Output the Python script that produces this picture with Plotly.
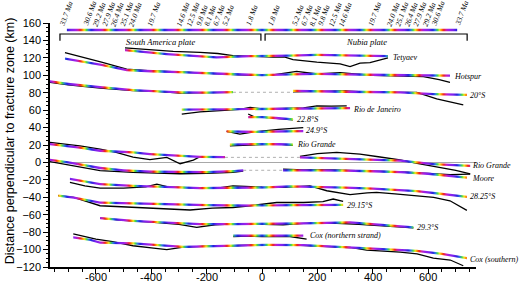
import numpy as np
import plotly.graph_objects as go

XMIN, XMAX = -766, 773
YMIN, YMAX = -120, 160
X_TICKS = [-600, -400, -200, 0, 200, 400, 600]

# ---------------- age key (km from ridge) ----------------
age_labels = ["1.8 Ma", "5.2 Ma", "6.7 Ma", "8.1 Ma", "9.8 Ma", "12.5 Ma", "14.6 Ma",
              "19.7 Ma", "24.0 Ma", "25.1 Ma", "26.4 Ma", "27.9 Ma", "29.2 Ma", "30.6 Ma", "33.7 Ma"]
age_km = [40, 126, 159, 190, 220, 257, 293, 399, 466, 497, 531, 562, 596, 629, 714]

# ---------------- tracks: black = observed, c = coloured flowline ----------------
tet_bx = [-495, -405, -321, -224, -160, -105, -19, 40, 80, 112, 198, 282, 318, 354, 390, 455]
tet_by = [131.5, 129, 127.4, 126.3, 125, 122.5, 121.3, 121, 121, 118, 115, 113, 110, 114, 114.5, 120]
tet_cx = [-495, -344, -164, -43, 100, 198, 350, 455]
tet_cy = [129, 124.4, 120.5, 122, 122.5, 123.3, 122.5, 122]

hot_bx = [-712, -650, -580, -489, -400, -300, -224, -105, -40, 40, 125, 200, 282, 400, 500, 583, 640, 679]
hot_by = [126, 121, 115, 107, 105, 104, 103, 101, 100, 100.5, 104.5, 101.5, 103, 100, 99.5, 98.4, 95, 92]
hot_cx = [-712, -650, -580, -489, -400, -300, -200, -100, 0, 100, 200, 300, 400, 500, 600, 679]
hot_cy = [119, 116, 112, 106, 104.5, 103.5, 102.5, 101, 100.2, 101, 101.5, 101, 100.5, 100, 99.5, 99.5]

s20l_bx = [-766, -700, -585, -466, -380, -296, -200, -105]
s20l_by = [91.8, 89, 85.4, 82.4, 81.5, 79.7, 80, 80.4]
s20l_cx = [-766, -700, -585, -466, -380, -296, -200, -105]
s20l_cy = [93, 90, 86.5, 83, 81.5, 80.3, 80, 80.8]
s20r_bx = [112, 200, 300, 400, 500, 559, 631, 727]
s20r_by = [81, 81.5, 82, 80.5, 80, 80.4, 72.8, 66]
s20r_cx = [112, 200, 300, 400, 500, 619, 740]
s20r_cy = [82, 81.5, 81, 80.5, 80.5, 78.5, 77.6]

rdj_bx = [-290, -260, -224, -150, -80, -43, 0, 80, 150, 198, 250, 306]
rdj_by = [55.5, 57, 58, 59.5, 61, 63, 61.5, 62, 62.5, 65, 64.5, 65]
rdj_cx = [-290, -200, -100, 0, 100, 200, 318]
rdj_cy = [60.5, 60.5, 61, 61.5, 62, 62, 62.4]

s228_bx = [-50, -30, 0, 50, 112]
s228_by = [55.6, 52.5, 52, 51, 49]
s228_cx = [-50, 0, 50, 112]
s228_cy = [52, 52, 51, 49.5]

s249_bx = [-128, -100, -80, -40, 0, 60, 149]
s249_by = [35.6, 34, 32.6, 34.5, 36, 38, 40]
s249_cx = [-128, -60, 0, 60, 149]
s249_cy = [35.6, 35, 35, 35.5, 36]

rgs_bx = [-116, -60, 0, 60, 112]
rgs_by = [19, 20, 20.5, 21, 19.5]
rgs_cx = [-116, -60, 0, 60, 112]
rgs_cy = [20.5, 21, 21, 21, 20.5]

rgl_bx = [-766, -658, -585, -527, -466, -405, -344, -296, -248, -224, -134]
rgl_by = [23, 19, 15.3, 11.5, 6, 3.2, 5.8, -1.5, 2.7, 6.5, 6]
rgl_cx = [-766, -658, -585, -466, -405, -296, -224, -134]
rgl_cy = [21, 17, 13.4, 11.5, 9.6, 7.7, 6.5, 6]
rgr_bx = [137, 200, 270, 354, 420, 499, 560, 631, 700, 752]
rgr_by = [7, 10, 11.5, 9.6, 6.5, 3, -1, -5, -9, -13]
rgr_cx = [137, 318, 499, 619, 752]
rgr_cy = [5.8, 4, 2, -1.9, -4]

mol_bx = [-766, -700, -585, -466, -380, -296, -200, -105, -68]
mol_by = [1, -3, -9.5, -11.5, -12, -13, -12.5, -11.5, -10]
mol_cx = [-766, -700, -585, -500, -400, -300, -200, -100, -68]
mol_cy = [3, 0, -6.4, -9, -10.5, -11, -11, -10, -9]
mor_bx = [76, 150, 250, 318, 400, 500, 600, 679, 752]
mor_by = [-7.6, -8.5, -8.5, -9.5, -10, -11, -12.5, -14, -13.5]
mor_cx = [76, 200, 300, 400, 500, 600, 680, 740]
mor_cy = [-9, -9, -9.5, -10, -11, -13, -15.5, -17.5]

s2825_bx = [-694, -640, -585, -500, -420, -380, -340, -224, -150, -105, -60, 0, 76, 130, 173,
            234, 318, 380, 414, 480, 559, 620, 679, 740]
s2825_by = [-23, -27, -29.5, -29.5, -28, -25, -28, -29.5, -29, -27, -27.5, -28.5, -28.7, -28, -27,
            -32.5, -37, -35, -34.4, -36, -38, -40, -44, -55]
s2825_cx = [-694, -585, -466, -350, -224, -100, 17, 100, 198, 300, 400, 480, 559, 650, 740]
s2825_cy = [-19, -25, -27, -28, -29.5, -29, -28.7, -27.5, -28, -29, -30, -31.5, -33, -36, -39.5]

s2915_bx = [-736, -680, -585, -500, -405, -330, -260, -180, -105, -43, 53, 150, 220, 257, 293]
s2915_by = [-38, -40, -49.7, -51, -52, -53, -54.6, -52.5, -51.7, -49.7, -46, -46, -45, -42, -44.8]
s2915_cx = [-736, -680, -585, -450, -344, -200, -100, 0, 100, 200, 293]
s2915_cy = [-38, -40.5, -46, -47.5, -48, -49, -49.5, -49.5, -49, -49, -48.6]

s293_bx = [-585, -500, -400, -300, -236, -170, -100, 0, 76, 150, 250, 350, 437, 547]
s293_by = [-64, -66.5, -68.5, -71, -74.6, -71.5, -70.5, -71, -71.5, -70, -69.5, -71, -72.7, -75]
s293_cx = [-585, -466, -350, -224, -100, 17, 150, 318, 437, 547]
s293_cy = [-64, -67, -69, -70.7, -70.7, -70.7, -70, -68.9, -71.5, -74.6]

coxn_bx = [-104, -50, 0, 50, 101, 161]
coxn_by = [-85, -84.5, -85, -85, -85, -88]
coxn_cx = [-104, -50, 0, 50, 100, 149]
coxn_cy = [-84, -84, -84, -84, -84, -84]

coxs_bx = [-682, -600, -540, -466, -400, -344, -290, -200, -105, 0, 100, 198, 318, 378, 450, 499,
           560, 619, 680, 727]
coxs_by = [-82, -88, -91, -95.6, -98, -100, -97.5, -96, -95.6, -94.5, -94.5, -95.6, -97.6, -100.6,
           -102, -103, -105, -109.8, -112, -118.6]
coxs_cx = [-682, -620, -585, -466, -284, -105, 17, 150, 318, 450, 559, 650, 740]
coxs_cy = [-86, -89, -92, -93, -97, -95.6, -94.5, -95, -97.6, -99.5, -101.4, -105, -109.8]

# labels of fracture zones
fz_names = ["Tetyaev", "Hotspur", "20°S", "Rio de Janeiro", "22.8°S", "24.9°S", "Rio Grande",
            "Rio Grande", "Moore", "28.25°S", "29.15°S", "29.3°S", "Cox (northern strand)", "Cox (southern)"]
fz_lx = [465, 688, 745, 322, 118, 153, 118, 752, 752, 745, 298, 552, 165, 745]
fz_ly = [120, 99, 77, 61, 49.8, 36.4, 21, -4, -18, -39, -49.7, -74.6, -84, -111]

# dotted connectors across the ridge gap
gap_y = [80.5, 5.8, -9]
gap_x0 = [-105, -134, -68]
gap_x1 = [112, 137, 76]

# plate brackets
plates = ["South America plate", "Nubia plate"]
plate_x0 = [-730, 11]
plate_x1 = [-4, 741]
BAR_X = [-705, 705]

# ---------------- colour key ----------------
KEY_STOPS = [0.0, 0.16, 0.36, 0.46, 0.56, 0.64, 0.72, 0.8, 0.9, 1.0]
KEY_COLORS = ['#2222dd', '#7a22ee', '#a020e8', '#d020a8', '#f01c1c', '#ff8a00', '#f2ea20', '#44dd44',
              '#2a7ae8', '#2222dd']
KEY_PERIOD = 705 / 8.0


def hex2rgb(h):
    return tuple(int(h[i:i + 2], 16) for i in (1, 3, 5))


def key_color(phase):
    for i in range(len(KEY_STOPS) - 1):
        if KEY_STOPS[i] <= phase <= KEY_STOPS[i + 1]:
            t = (phase - KEY_STOPS[i]) / (KEY_STOPS[i + 1] - KEY_STOPS[i])
            a, b = hex2rgb(KEY_COLORS[i]), hex2rgb(KEY_COLORS[i + 1])
            return 'rgb(%d,%d,%d)' % tuple(round(a[k] + (b[k] - a[k]) * t) for k in range(3))
    return KEY_COLORS[0]


cs_x = np.linspace(XMIN, XMAX, 400)
CS = [[float((x - XMIN) / (XMAX - XMIN)), key_color(((705 - abs(x)) % KEY_PERIOD) / KEY_PERIOD)] for x in cs_x]
CS[0][0] = 0.0
CS[-1][0] = 1.0

fig = go.Figure()


def black(x, y):
    fig.add_trace(go.Scatter(x=x, y=y, mode='lines', line=dict(color='black', width=1.3),
                             hoverinfo='skip', showlegend=False))


def colored(x, y, half=1.3):
    x = list(x)
    y = list(y)
    px = x + x[::-1]
    py = [v + half for v in y] + [v - half for v in y[::-1]]
    fig.add_trace(go.Scatter(x=px, y=py, mode='lines', line=dict(width=0), fill='toself',
                             fillgradient=dict(type='horizontal', colorscale=CS, start=XMIN, stop=XMAX),
                             hoverinfo='skip', showlegend=False))


track_pairs = [
    (tet_bx, tet_by, tet_cx, tet_cy), (hot_bx, hot_by, hot_cx, hot_cy),
    (s20l_bx, s20l_by, s20l_cx, s20l_cy), (s20r_bx, s20r_by, s20r_cx, s20r_cy),
    (rdj_bx, rdj_by, rdj_cx, rdj_cy), (s228_bx, s228_by, s228_cx, s228_cy),
    (s249_bx, s249_by, s249_cx, s249_cy), (rgs_bx, rgs_by, rgs_cx, rgs_cy),
    (rgl_bx, rgl_by, rgl_cx, rgl_cy), (rgr_bx, rgr_by, rgr_cx, rgr_cy),
    (mol_bx, mol_by, mol_cx, mol_cy), (mor_bx, mor_by, mor_cx, mor_cy),
    (s2825_bx, s2825_by, s2825_cx, s2825_cy), (s2915_bx, s2915_by, s2915_cx, s2915_cy),
    (s293_bx, s293_by, s293_cx, s293_cy), (coxn_bx, coxn_by, coxn_cx, coxn_cy),
    (coxs_bx, coxs_by, coxs_cx, coxs_cy),
]

shapes = []
for y, x0, x1 in zip(gap_y, gap_x0, gap_x1):
    shapes.append(dict(type='line', x0=x0, x1=x1, y0=y, y1=y, xref='x', yref='y',
                       line=dict(color='#b0b0b0', width=1, dash='dot'), layer='below'))

for bx, by, cx, cy in track_pairs:
    black(bx, by)
for bx, by, cx, cy in track_pairs:
    colored(cx, cy)

# colour key bar
colored(BAR_X, [152, 152], half=1.4)

# brackets
for x0, x1 in zip(plate_x0, plate_x1):
    shapes.append(dict(type='path', path=f'M {x0},139.7 L {x0},147.4 L {x1},147.4 L {x1},139.7',
                       xref='x', yref='y', line=dict(color='black', width=1.2)))

SERIF = 'Liberation Serif, Times New Roman, serif'
SANS = 'Liberation Sans, Arial'
ann = []
for name, x0, x1 in zip(plates, plate_x0, plate_x1):
    ann.append(dict(x=(x0 + x1) / 2, y=138, xref='x', yref='y', text=f'<i>{name}</i>', showarrow=False,
                    font=dict(family=SERIF, size=8.5, color='black'), xanchor='center', yanchor='middle'))

for name, lx, ly in zip(fz_names, fz_lx, fz_ly):
    ann.append(dict(x=lx, y=ly, xref='x', yref='y', text=f'<i>{name}</i>', showarrow=False,
                    font=dict(family=SERIF, size=8, color='black'), xanchor='left', yanchor='middle'))

for lab, km in zip(age_labels, age_km):
    for side in (-1, 1):
        ann.append(dict(x=side * km, y=153.5, xref='x', yref='y', text=f'<i>{lab}</i>', showarrow=False,
                        textangle=-70, font=dict(family=SERIF, size=7.5, color='black'),
                        xanchor='left', yanchor='bottom', xshift=-8, borderpad=0))

# x tick labels (placed just below the axis ticks)
for v in X_TICKS:
    ann.append(dict(x=v, y=0, xref='x', yref='paper', text=f'{v}', showarrow=False,
                    font=dict(family=SANS, size=11, color='black'), xanchor='center', yanchor='top',
                    yshift=-3, borderpad=0))

ann.append(dict(x=-40 / 426, y=0.515, xref='paper', yref='paper',
                text='Distance perpendicular to fracture zone (km)', showarrow=False, textangle=-90,
                font=dict(family=SANS, size=12.5, color='black'),
                xanchor='center', yanchor='middle'))

fig.update_layout(width=520, height=283, margin=dict(l=50, r=44, t=23, b=16),
                  plot_bgcolor='white', paper_bgcolor='white', showlegend=False,
                  shapes=shapes, annotations=ann)
fig.update_xaxes(range=[XMIN, XMAX], showgrid=False, zeroline=False, showline=True, linecolor='black',
                 linewidth=1.5, ticks='outside', ticklen=5, tickwidth=1.2, tickcolor='black',
                 tickvals=X_TICKS, showticklabels=False,
                 minor=dict(ticks='outside', ticklen=3, dtick=50, tickcolor='black', tickwidth=1),
                 automargin=False)
fig.update_yaxes(range=[YMIN, YMAX], showgrid=False, zeroline=True, zerolinecolor='#a8a8a8',
                 zerolinewidth=1, showline=True, linecolor='black', linewidth=1.5, ticks='outside',
                 ticklen=5, tickwidth=1.2, tickcolor='black', dtick=20, tick0=0,
                 tickfont=dict(family=SANS, size=11, color='black'),
                 minor=dict(ticks='outside', ticklen=2.5, dtick=5, tickcolor='black', tickwidth=1),
                 automargin=False)

fig.write_html("out.html", config={'displayModeBar': False},
               post_script="document.body.style.margin='0px';document.body.style.overflow='hidden';")
